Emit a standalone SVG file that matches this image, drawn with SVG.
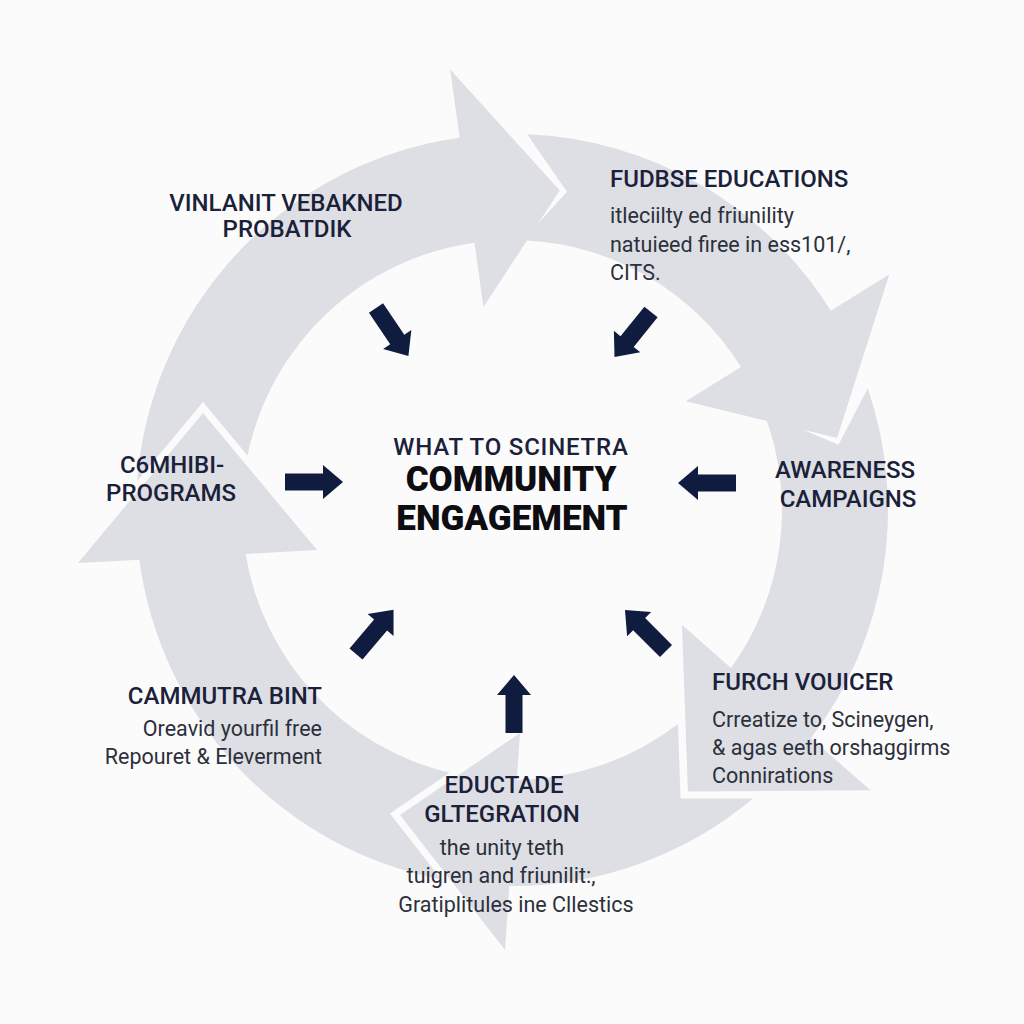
<svg xmlns="http://www.w3.org/2000/svg" xmlns:xlink="http://www.w3.org/1999/xlink" width="1024" height="1024" viewBox="0 0 1024 1024">
<style>
.seg{fill:#dddfe5;}
.nav{fill:#101c3f;}
.ttl{font-family:Roboto,"Liberation Sans",Arial,sans-serif;font-weight:500;font-size:24px;fill:#1a2139;}
.body{font-family:Roboto,"Liberation Sans",Arial,sans-serif;font-weight:400;font-size:21.5px;fill:#2c303a;}
.big{font-family:Roboto,"Liberation Sans",Arial,sans-serif;font-weight:900;fill:#0d0d12;}
.mid{text-anchor:middle;}
.end{text-anchor:end;}
</style>
<defs>
<path id="navArrow" d="M0,-8.5 H38 V-17 L58,0 L38,17 V8.5 H0 Z"/>
</defs>
<rect x="0" y="0" width="1024" height="1024" fill="#fbfbfc"/>
<g id="ring">
<path id="segA" class="seg" d="M137.43,542.77 A376,376 0 0 1 459.67,137.66 L450.07,69.33 L559.74,190.55 L483.47,306.99 L474.42,242.63 A270,270 0 0 0 243.03,533.53 L189.44,493.10 Z"/>
<path id="segB" class="seg" d="M527.09,134.30 A376,376 0 0 1 830.87,310.75 L889.38,274.19 L837.11,437.93 L685.85,401.37 L740.97,366.92 A270,270 0 0 0 522.84,240.22 L566.98,191.71 Z"/>
<path id="segC" class="seg" d="M867.73,388.21 A376,376 0 0 1 810.89,738.12 L870.55,790.13 L687.93,791.55 L681.95,624.63 L730.96,667.97 A270,270 0 0 0 764.07,413.24 L838.54,444.75 Z"/>
<path id="segD" class="seg" d="M753.1,798.5 A376,376 0 0 1 509.4,886 L505,950 L400,815 L520,733 L516.75,779.9 A270,270 0 0 0 678,724 L680.5,798.5 Z"/>
<polyline points="78,563 203,413 317,550" fill="none" stroke="#fbfbfc" stroke-width="14" stroke-linejoin="miter"/>
<path id="segE" class="seg" d="M441.10,879.25 A376,376 0 0 1 139.3,559.7 L78,563 L203,413 L317,550 L245.6,553.9 A270,270 0 0 0 449.53,772.68 L389.9,813.4 Z"/>
</g>
<g id="connectors">
<use xlink:href="#navArrow" href="#navArrow" class="nav" transform="translate(376,308) rotate(56)"/>
<use xlink:href="#navArrow" href="#navArrow" class="nav" transform="translate(651,312) rotate(129)"/>
<use xlink:href="#navArrow" href="#navArrow" class="nav" transform="translate(285,482)"/>
<use xlink:href="#navArrow" href="#navArrow" class="nav" transform="translate(736,483) rotate(180)"/>
<use xlink:href="#navArrow" href="#navArrow" class="nav" transform="translate(356,654) rotate(-49.7)"/>
<use xlink:href="#navArrow" href="#navArrow" class="nav" transform="translate(514,733) rotate(-90)"/>
<use xlink:href="#navArrow" href="#navArrow" class="nav" transform="translate(666,651) rotate(-135)"/>
</g>
<g id="node-center">
<text class="ttl mid" x="511" y="455" font-size="23" letter-spacing="0.8">WHAT TO SCINETRA</text>
<text class="big mid" x="511" y="491" font-size="35">COMMUNITY</text>
<text class="big mid" x="512" y="530" font-size="35">ENGAGEMENT</text>
</g>
<g id="node-topleft">
<text class="ttl mid" x="286" y="211">VINLANIT VEBAKNED</text>
<text class="ttl mid" x="287" y="237">PROBATDIK</text>
</g>
<g id="node-topright">
<text class="ttl" x="610" y="187" font-size="22.5">FUDBSE EDUCATIONS</text>
<text class="body" x="610" y="223">itleciilty ed friunility</text>
<text class="body" x="610" y="252">natuieed firee in ess101/,</text>
<text class="body" x="610" y="280">CITS.</text>
</g>
<g id="node-left">
<text class="ttl mid" x="172" y="473">C6MHIBI-</text>
<text class="ttl mid" x="171" y="501">PROGRAMS</text>
</g>
<g id="node-right">
<text class="ttl mid" x="845" y="478">AWARENESS</text>
<text class="ttl mid" x="848" y="507">CAMPAIGNS</text>
</g>
<g id="node-bottomleft">
<text class="ttl end" x="322" y="704">CAMMUTRA BINT</text>
<text class="body end" x="322" y="736">Oreavid yourfil free</text>
<text class="body end" x="322" y="764">Repouret &amp; Eleverment</text>
</g>
<g id="node-bottomright">
<text class="ttl" x="712" y="690">FURCH VOUICER</text>
<text class="body" x="712" y="727">Crreatize to, Scineygen,</text>
<text class="body" x="712" y="755">&amp; agas eeth orshaggirms</text>
<text class="body" x="712" y="783">Connirations</text>
</g>
<g id="node-bottom">
<text class="ttl mid" x="504" y="793" font-size="25">EDUCTADE</text>
<text class="ttl mid" x="502" y="822" font-size="25">GLTEGRATION</text>
<text class="body mid" x="502" y="855">the unity teth</text>
<text class="body mid" x="501" y="883">tuigren and friunilit:,</text>
<text class="body mid" x="516" y="912">Gratiplitules ine Cllestics</text>
</g>
</svg>
